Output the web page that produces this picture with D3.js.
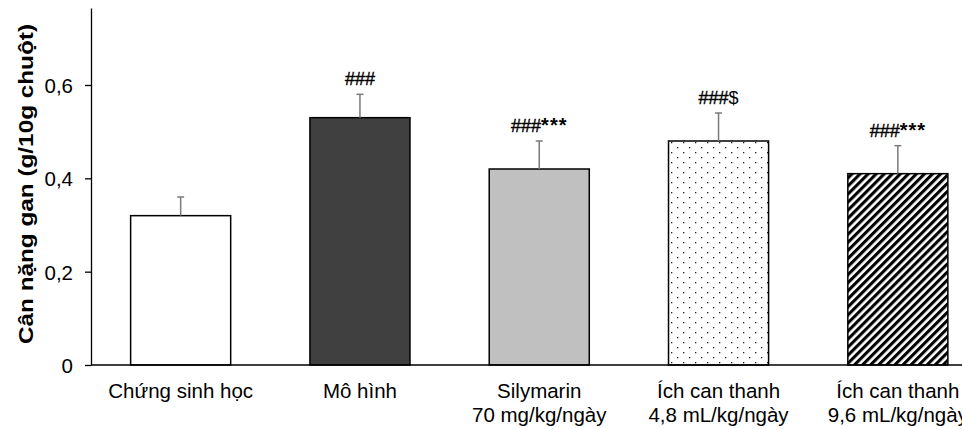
<!DOCTYPE html>
<html><head><meta charset="utf-8">
<script src="https://cdn.jsdelivr.net/npm/d3@7"></script>
<style>body{margin:0;background:#fff}svg{display:block}text{font-family:"Liberation Sans",Arial,sans-serif}</style>
</head><body><svg id="c" width="962" height="429"></svg>
<script>
const categories = ["Chứng sinh học", "Mô hình", "Silymarin|70 mg/kg/ngày", "Ích can thanh|4,8 mL/kg/ngày", "Ích can thanh|9,6 mL/kg/ngày"];
const means = [0.32, 0.53, 0.42, 0.48, 0.41];
const errors = [0.04, 0.05, 0.06, 0.06, 0.06];
const annoHash = ["", "###", "###", "###", "###"];
const annoTail = ["", "", "***", "$", "***"];
const yTicks = [0, 0.2, 0.4, 0.6];
const yTickLabels = ["0", "0,2", "0,4", "0,6"];
const fills = ["#ffffff", "#404040", "#c0c0c0", "url(#dots)", "url(#stripes)"];

const svg = d3.select("#c");
const defs = svg.append("defs");
const dots = defs.append("pattern").attr("id","dots").attr("patternUnits","userSpaceOnUse")
  .attr("width",12).attr("height",10).attr("x",668).attr("y",0);
dots.append("rect").attr("width",12).attr("height",10).attr("fill","#fff");
dots.append("rect").attr("x",3).attr("y",2).attr("width",1.3).attr("height",1.3).attr("fill","#222");
dots.append("rect").attr("x",9).attr("y",7).attr("width",1.3).attr("height",1.3).attr("fill","#222");
const st = defs.append("pattern").attr("id","stripes").attr("patternUnits","userSpaceOnUse")
  .attr("width",5.7).attr("height",10).attr("patternTransform","rotate(45)");
st.append("rect").attr("width",5.7).attr("height",10).attr("fill","#fff");
st.append("rect").attr("width",3.1).attr("height",10).attr("fill","#000");

const x0 = 91, y0 = 365;
const x = d3.scaleBand().domain(d3.range(categories.length)).range([x0, x0 + 5*179.3]).paddingInner(0.442).paddingOuter(0.221);
const y = d3.scaleLinear().domain([0, 0.765]).range([y0, 8]);

// axes
const yAxis = d3.axisLeft(y).tickValues(yTicks).tickFormat((d,i)=>yTickLabels[i]).tickSize(6).tickSizeOuter(0);
const gy = svg.append("g").attr("transform",`translate(${x0},0)`).call(yAxis);
gy.select(".domain").attr("stroke","#000").attr("stroke-width",1.3);
gy.selectAll(".tick line").attr("stroke","#000").attr("stroke-width",1.3);
gy.selectAll(".tick text").attr("font-size",20.5).attr("fill","#000").attr("x",-18).attr("dy","0.36em");

// bars
svg.append("g").selectAll("rect").data(means).join("rect")
  .attr("x",(d,i)=>x(i)).attr("y",d=>y(d)).attr("width",x.bandwidth()).attr("height",d=>y0-y(d))
  .attr("fill",(d,i)=>fills[i]).attr("stroke","#000").attr("stroke-width",1.5);

// error bars
const eb = svg.append("g").attr("stroke","#7a7a7a").attr("stroke-width",1.5);
means.forEach((m,i)=>{
  const cx = x(i)+x.bandwidth()/2;
  eb.append("line").attr("x1",cx).attr("x2",cx).attr("y1",y(m)).attr("y2",y(m+errors[i]));
  eb.append("line").attr("x1",cx-3.5).attr("x2",cx+3.5).attr("y1",y(m+errors[i])).attr("y2",y(m+errors[i]));
});

// annotations
const ag = svg.append("g");
means.forEach((m,i)=>{
  if(!annoHash[i]) return;
  const t = ag.append("text").attr("x",x(i)+x.bandwidth()/2).attr("y",y(m+errors[i])-9)
    .attr("text-anchor","middle").attr("fill","#000");
  t.append("tspan").attr("font-size",18).attr("stroke","#000").attr("stroke-width",0.4).text(annoHash[i]);
  if(annoTail[i]==="***") t.append("tspan").attr("font-size",20).attr("font-weight","bold").attr("letter-spacing",1).text(annoTail[i]);
  else if(annoTail[i]) t.append("tspan").attr("font-size",18).text(annoTail[i]);
});

// x axis line
svg.append("line").attr("x1",x0).attr("x2",962).attr("y1",y0).attr("y2",y0).attr("stroke","#000").attr("stroke-width",1.5);

// x labels
const xl = svg.append("g");
categories.forEach((c,i)=>{
  const cx = x(i)+x.bandwidth()/2;
  const t = xl.append("text").attr("x",cx).attr("y",398).attr("text-anchor","middle").attr("font-size",20.5).attr("fill","#000");
  c.split("|").forEach((line,j)=>t.append("tspan").attr("x",cx).attr("dy",j===0?0:24).text(line));
});

// y label
svg.append("text").attr("transform","translate(33,184) rotate(-90)").attr("text-anchor","middle")
  .attr("font-size",20).attr("font-weight","bold").attr("fill","#000")
  .attr("textLength",320).attr("lengthAdjust","spacingAndGlyphs").text("Cân nặng gan (g/10g chuột)");
</script></body></html>
